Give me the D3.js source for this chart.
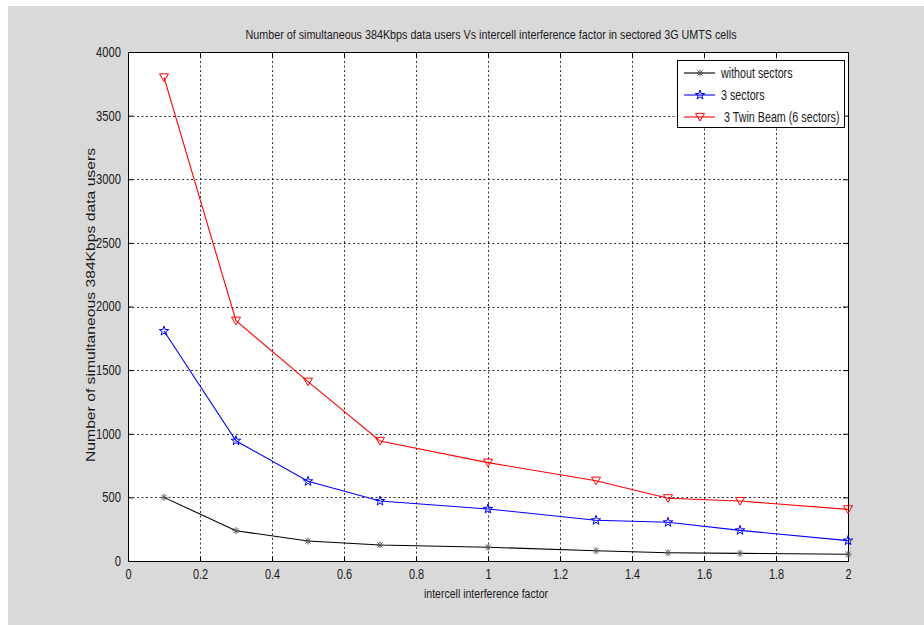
<!DOCTYPE html>
<html>
<head>
<meta charset="utf-8">
<script src="https://cdn.jsdelivr.net/npm/d3@7"></script>
<style>
  html, body { margin: 0; padding: 0; background: #ffffff; }
  svg { display: block; }
  text { font-family: "Liberation Sans", Arial, sans-serif; fill: #1a1a1a; }
</style>
</head>
<body>
<svg id="chart" width="924" height="625"></svg>
<script>
// Interference factor samples
const factors = [0.1, 0.3, 0.5, 0.7, 1.0, 1.3, 1.5, 1.7, 2.0];
// Simultaneous 384 kbps users for each cell configuration
const withoutSectors = [500, 238, 157, 126, 108, 81, 65, 60, 53];
const threeSectors   = [1807, 945, 626, 471, 409, 320, 304, 241, 160];
const twinBeam       = [3800, 1888, 1409, 943, 773, 631, 493, 471, 406];
const seriesNames = ["without sectors", "3 sectors", " 3 Twin Beam (6 sectors)"];
const xTicks = [0, 0.2, 0.4, 0.6, 0.8, 1, 1.2, 1.4, 1.6, 1.8, 2];
const yTicks = [0, 500, 1000, 1500, 2000, 2500, 3000, 3500, 4000];

const titleText = "Number of simultaneous 384Kbps data users Vs intercell interference factor in sectored 3G UMTS cells";
const xLabel = "intercell interference factor";
const yLabel = "Number of simultaneous 384Kbps data users";

const svg = d3.select("#chart");
const W = 924, H = 625;
const plot = { left: 128, right: 848, top: 52, bottom: 561 };

// squeeze text horizontally to imitate a narrow typeface
function condense(sel, factor) {
  sel.each(function () {
    const len = this.getComputedTextLength();
    d3.select(this).attr("textLength", len * factor).attr("lengthAdjust", "spacingAndGlyphs");
  });
}

// figure background with a thin white margin on the top and left
svg.append("rect").attr("width", W).attr("height", H).attr("fill", "#ffffff");
svg.append("rect").attr("x", 8).attr("y", 6).attr("width", W - 8).attr("height", H - 6).attr("fill", "#d9d9d9");

const x = d3.scaleLinear().domain([0, 2]).range([plot.left, plot.right]);
const y = d3.scaleLinear().domain([0, 4000]).range([plot.bottom, plot.top]);

// plot area
svg.append("rect")
  .attr("x", plot.left).attr("y", plot.top)
  .attr("width", plot.right - plot.left).attr("height", plot.bottom - plot.top)
  .attr("fill", "#ffffff");

// dotted grid
const grid = svg.append("g").attr("stroke", "#333").attr("stroke-width", 1).attr("stroke-dasharray", "2,2.5");
grid.selectAll(".gx").data(xTicks.slice(1, -1)).join("line")
  .attr("x1", d => Math.round(x(d)) + 0.5).attr("x2", d => Math.round(x(d)) + 0.5)
  .attr("y1", plot.top).attr("y2", plot.bottom);
grid.selectAll(".gy").data(yTicks.slice(1, -1)).join("line")
  .attr("y1", d => Math.round(y(d)) + 0.5).attr("y2", d => Math.round(y(d)) + 0.5)
  .attr("x1", plot.left).attr("x2", plot.right);

// axes with inward ticks
const xAxis = d3.axisBottom(x).tickValues(xTicks).tickSize(-5).tickPadding(8).tickFormat(d3.format("~g"));
const yAxis = d3.axisLeft(y).tickValues(yTicks).tickSize(-5).tickPadding(7).tickFormat(d3.format("d"));
const xTop = d3.axisTop(x).tickValues(xTicks).tickSize(-5).tickFormat("");
const yRight = d3.axisRight(y).tickValues(yTicks).tickSize(-5).tickFormat("");

function styleAxis(g) {
  g.select(".domain").remove();
  g.selectAll("line").attr("stroke", "#000");
  g.selectAll("text").attr("font-size", 14).attr("fill", "#1a1a1a")
    .style("font-family", '"Liberation Sans", Arial, sans-serif');
}
const gx = svg.append("g").attr("transform", `translate(0,${plot.bottom})`).call(xAxis).call(styleAxis);
const gy = svg.append("g").attr("transform", `translate(${plot.left},0)`).call(yAxis).call(styleAxis);
svg.append("g").attr("transform", `translate(0,${plot.top})`).call(xTop).call(styleAxis);
svg.append("g").attr("transform", `translate(${plot.right},0)`).call(yRight).call(styleAxis);
gx.selectAll("text").call(condense, 0.78);
gy.selectAll("text").call(condense, 0.8);

// frame
svg.append("rect")
  .attr("x", plot.left + 0.5).attr("y", plot.top + 0.5)
  .attr("width", plot.right - plot.left).attr("height", plot.bottom - plot.top)
  .attr("fill", "none").attr("stroke", "#000").attr("stroke-width", 1);

// marker shapes
function asterisk(r) {
  const d = r * 0.72;
  return `M${-r},0L${r},0M0,${-r}L0,${r}M${-d},${-d}L${d},${d}M${-d},${d}L${d},${-d}`;
}
function triangleDown(r) {
  return `M${-r},${-r * 0.8}L${r},${-r * 0.8}L0,${r * 0.9}Z`;
}
const starPath = d3.symbol().type(d3.symbolStar).size(28)();

const series = [
  { name: seriesNames[0], values: withoutSectors, color: "#000000", markColor: "#555555", marker: asterisk(3.5) },
  { name: seriesNames[1], values: threeSectors, color: "#0000ff", markColor: "#0000ff", marker: starPath },
  { name: seriesNames[2], values: twinBeam, color: "#ff0000", markColor: "#ff0000", marker: triangleDown(4.5) }
];

const line = d3.line().x(d => x(d[0])).y(d => y(d[1]));

series.forEach(s => {
  const pts = factors.map((f, i) => [f, s.values[i]]);
  svg.append("path").datum(pts)
    .attr("d", line).attr("fill", "none")
    .attr("stroke", s.color).attr("stroke-width", 1.1);
  svg.append("g").selectAll("path").data(pts).join("path")
    .attr("transform", d => `translate(${x(d[0])},${y(d[1])})`)
    .attr("d", s.marker)
    .attr("fill", "none").attr("stroke", s.markColor).attr("stroke-width", 1);
});

// legend
const lg = svg.append("g").attr("transform", "translate(677,60)");
lg.append("rect").attr("x", 0.5).attr("y", 0.5).attr("width", 167).attr("height", 67)
  .attr("fill", "#ffffff").attr("stroke", "#000").attr("stroke-width", 1);
series.forEach((s, i) => {
  const cy = 13 + i * 22;
  lg.append("line").attr("x1", 7).attr("x2", 38).attr("y1", cy).attr("y2", cy)
    .attr("stroke", s.color).attr("stroke-width", 1.1);
  lg.append("path").attr("transform", `translate(23,${cy})`).attr("d", s.marker)
    .attr("fill", "none").attr("stroke", s.markColor).attr("stroke-width", 1);
  lg.append("text").attr("x", 44).attr("y", cy + 5).attr("font-size", 14.5)
    .attr("xml:space", "preserve").style("white-space", "pre").text(s.name)
    .call(condense, 0.74);
});

// title and axis labels
svg.append("text").attr("x", 491).attr("y", 39).attr("text-anchor", "middle")
  .attr("font-size", 13).attr("textLength", 491).attr("lengthAdjust", "spacingAndGlyphs")
  .text(titleText);
svg.append("text").attr("x", 486).attr("y", 598).attr("text-anchor", "middle")
  .attr("font-size", 13.5).attr("textLength", 124).attr("lengthAdjust", "spacingAndGlyphs")
  .text(xLabel);
svg.append("text").attr("transform", "translate(95,305) rotate(-90)").attr("text-anchor", "middle")
  .attr("font-size", 13.5)
  .attr("textLength", 314).attr("lengthAdjust", "spacingAndGlyphs")
  .text(yLabel);
</script>
</body>
</html>
